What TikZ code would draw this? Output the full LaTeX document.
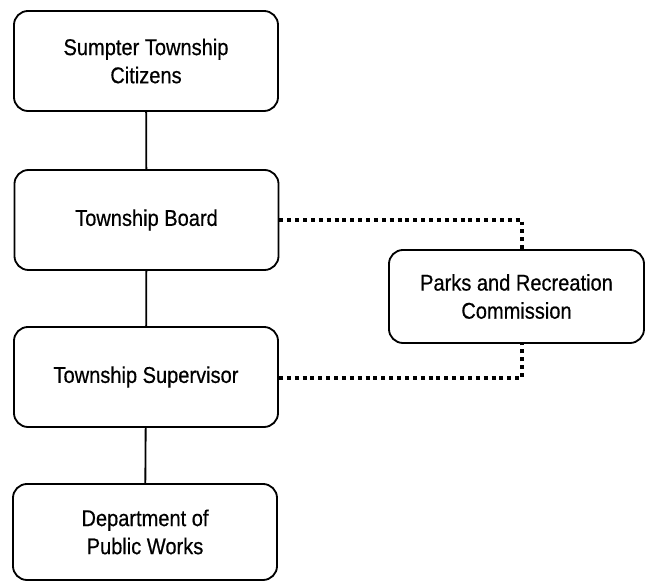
\documentclass[tikz,border=0pt]{standalone}
\usepackage{fontspec}
\setmainfont{Liberation Sans}
\newfontfamily\boxfont{Liberation Sans}[FakeStretch=0.88, FakeBold=0.5]
\usetikzlibrary{calc}

\tikzset{
  orgbox/.style={draw, line width=1.3pt, rounded corners=10pt,
    minimum width=6.6cm, minimum height=2.5cm, align=center,
    font=\boxfont\fontsize{16.2}{20}\selectfont},
  orgline/.style={line width=1.3pt},
  dotline/.style={line width=2.6pt, dash pattern=on 2.8pt off 2.8pt}
}

\begin{document}
\begin{tikzpicture}[x=0.025cm, y=-0.025cm]
    \useasboundingbox (0,0) rectangle (646,582);

    % left column
    \node[orgbox] (citizens) at (146,61) {Sumpter Township\\Citizens};
    \node[orgbox] (board) at (146.5,220) {Township Board};
    \node[orgbox] (supervisor) at (146,377) {Township Supervisor};
    \node[orgbox, minimum height=2.4cm] (works) at (145,532) {Department of\\Public Works};

    % right box
    \node[orgbox, minimum width=6.375cm, minimum height=2.325cm] (parks) at (516.5,296.5) {Parks and Recreation\\Commission};

    \draw[orgline] (citizens) -- (board);
    \draw[orgline] (board) -- (supervisor);
    \draw[orgline] (supervisor) -- (works);

    \coordinate (ptop) at (522,220);
    \coordinate (pbot) at (522,378);
    \draw[dotline] (board.east) -- (ptop) -- (ptop |- parks.north);
    \draw[dotline] (supervisor.east |- pbot) -- (pbot) -- (pbot |- parks.south);

\end{tikzpicture}
\end{document}
